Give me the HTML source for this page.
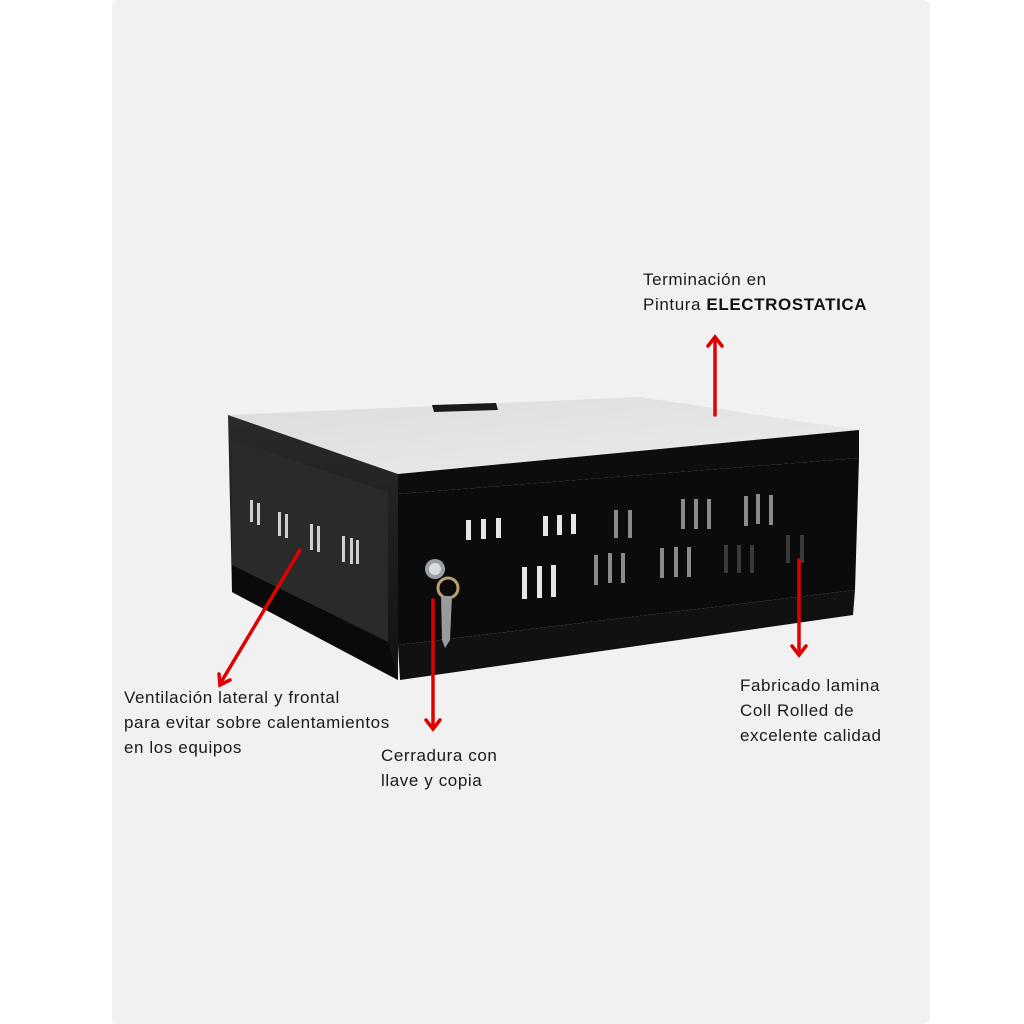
<!DOCTYPE html>
<html><head><meta charset="utf-8"><style>
html,body{margin:0;padding:0;background:#fff;}
svg{display:block}
text{font-family:"Liberation Sans",sans-serif;font-size:17px;letter-spacing:0.6px;fill:#1a1a1a}
</style></head><body>
<svg width="1024" height="1024" viewBox="0 0 1024 1024" xmlns="http://www.w3.org/2000/svg">
<defs>
<linearGradient id="top" x1="0" y1="0" x2="1" y2="1"><stop offset="0" stop-color="#dcdcde"/><stop offset="1" stop-color="#ececee"/></linearGradient>
<linearGradient id="side" x1="0" y1="0" x2="0" y2="1"><stop offset="0" stop-color="#2a2a2a"/><stop offset="1" stop-color="#111"/></linearGradient>
</defs>
<rect x="112" y="0" width="818" height="1024" fill="#f1f1f1" rx="6"/>
<polygon points="228,415 640,397 859,430 398,474" fill="url(#top)"/>
<polygon points="432,405 496,403 498,410 434,412" fill="#1a1a1a"/>
<polygon points="398,474 859,430 859,458 398,494" fill="#0d0d0d"/>
<polygon points="228,415 398,474 398,680 232,592" fill="url(#side)"/>
<polygon points="232,440 388,492 388,642 232,565" fill="#2a2a2a"/>
<polygon points="232,565 388,642 398,680 232,592" fill="#0a0a0a"/>
<polygon points="398,494 859,458 855,590 398,645" fill="#0b0b0b"/>
<polygon points="398,645 855,590 853,615 400,680" fill="#111"/>
<g fill="#cfcfcf">
<rect x="250" y="500" width="3" height="22"/><rect x="257" y="503" width="3" height="22"/>
<rect x="278" y="512" width="3" height="24"/><rect x="285" y="514" width="3" height="24"/>
<rect x="310" y="524" width="3" height="26"/><rect x="317" y="526" width="3" height="26"/>
<rect x="342" y="536" width="3" height="26"/><rect x="350" y="538" width="3" height="26"/><rect x="356" y="540" width="3" height="24"/>
</g>
<g fill="#e6e6e6">
<rect x="466" y="520" width="5" height="20"/><rect x="481" y="519" width="5" height="20"/><rect x="496" y="518" width="5" height="20"/>
<rect x="543" y="516" width="5" height="20"/><rect x="557" y="515" width="5" height="20"/><rect x="571" y="514" width="5" height="20"/>
<rect x="522" y="567" width="5" height="32"/><rect x="537" y="566" width="5" height="32"/><rect x="551" y="565" width="5" height="32"/>
</g>
<g fill="#8a8a8a">
<rect x="614" y="510" width="4" height="28"/><rect x="628" y="510" width="4" height="28"/>
<rect x="681" y="499" width="4" height="30"/><rect x="694" y="499" width="4" height="30"/><rect x="707" y="499" width="4" height="30"/>
<rect x="744" y="496" width="4" height="30"/><rect x="756" y="494" width="4" height="30"/><rect x="769" y="495" width="4" height="30"/>
<rect x="594" y="555" width="4" height="30"/><rect x="608" y="553" width="4" height="30"/><rect x="621" y="553" width="4" height="30"/>
<rect x="660" y="548" width="4" height="30"/><rect x="674" y="547" width="4" height="30"/><rect x="687" y="547" width="4" height="30"/>
</g>
<g fill="#3a3a3a">
<rect x="724" y="545" width="4" height="28"/><rect x="737" y="545" width="4" height="28"/><rect x="750" y="545" width="4" height="28"/>
<rect x="786" y="535" width="4" height="28"/><rect x="800" y="535" width="4" height="28"/>
</g>
<circle cx="435" cy="569" r="10" fill="#9aa0a4"/><circle cx="435" cy="569" r="6" fill="#d8dcde"/>
<circle cx="448" cy="588" r="10" fill="none" stroke="#b8a070" stroke-width="3"/>
<polygon points="441,596 452,596 450,640 445,648 442,640" fill="#9a9a9a"/>
<g stroke="#e00000" stroke-width="3.5" fill="none" stroke-linecap="round">
<line x1="715" y1="415" x2="715" y2="338"/><polyline points="708,346 715,337 722,346"/>
<line x1="300" y1="550" x2="220" y2="684"/><polyline points="219,674 220,685 230,680"/>
<line x1="433" y1="600" x2="433" y2="728"/><polyline points="426,720 433,729 440,720"/>
<line x1="799" y1="560" x2="799" y2="654"/><polyline points="792,646 799,655 806,646"/>
</g>
<text x="643" y="285">Terminación en</text>
<text x="643" y="310">Pintura <tspan font-weight="bold" fill="#111">ELECTROSTATICA</tspan></text>
<text x="124" y="703">Ventilación lateral y frontal</text>
<text x="124" y="728">para evitar sobre calentamientos</text>
<text x="124" y="753">en los equipos</text>
<text x="381" y="761">Cerradura con</text>
<text x="381" y="786">llave y copia</text>
<text x="740" y="691">Fabricado lamina</text>
<text x="740" y="716">Coll Rolled de</text>
<text x="740" y="741">excelente calidad</text>
</svg>
</body></html>
